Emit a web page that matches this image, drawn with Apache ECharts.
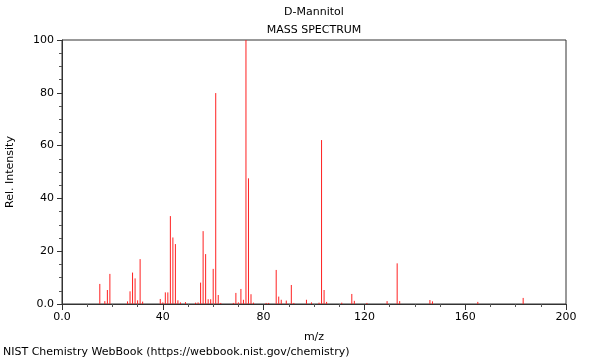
<!DOCTYPE html>
<html>
<head>
<meta charset="utf-8">
<script src="https://cdn.jsdelivr.net/npm/echarts@6/dist/echarts.min.js"></script>
<style>
  html, body { margin: 0; padding: 0; background: #fff; }
  #chart { width: 600px; height: 360px; }
</style>
</head>
<body>
<div id="chart"></div>
<script>
// m/z values and relative intensities
const mz = [15, 17, 18, 19, 26, 27, 28, 29, 30, 31, 32, 39, 40, 41, 42, 43, 44, 45, 46, 47, 49,
  53, 54, 55, 56, 57, 58, 59, 60, 61, 62, 63, 68, 69, 70, 71, 72, 73, 74, 75, 76,
  81, 82, 85, 86, 87, 89, 91, 92, 97, 99, 102, 103, 104, 105, 111, 115, 116, 121,
  129, 133, 134, 146, 147, 165, 183];
const intensity = [7.6, 1.1, 5.3, 11.4, 1.0, 4.8, 11.9, 9.7, 1.4, 17.0, 0.9, 1.9, 0.6, 4.4, 4.4, 33.3, 25.2, 22.7, 1.4, 0.6, 0.7,
  0.5, 0.6, 8.1, 27.6, 18.9, 1.8, 1.8, 13.3, 79.9, 3.4, 0.4, 0.4, 4.2, 0.6, 5.7, 1.6, 100, 47.6, 3.7, 0.5,
  0.4, 0.4, 12.9, 2.8, 1.6, 1.3, 7.2, 0.4, 1.6, 0.6, 0.5, 62.1, 5.3, 0.8, 0.5, 3.8, 1.2, 0.4,
  1.1, 15.4, 1.1, 1.5, 1.0, 0.8, 2.3];

const xTicks = [0, 40, 80, 120, 160, 200];
const yTicks = [0, 20, 40, 60, 80, 100];

const myChart = echarts.init(document.getElementById("chart"), null, { renderer: "canvas" });
const font = "DejaVu Sans";
const txt = { fontSize: 11, fontWeight: "normal", color: "#000", fontFamily: font };
const tickLabel = (v) => (v === 0 ? "0.0" : String(v));

myChart.setOption({
  animation: false,
  textStyle: { fontFamily: font },
  title: [
    { text: "D-Mannitol", left: 314, top: 7, padding: 0, textAlign: "center", textStyle: txt },
    { text: "MASS SPECTRUM", left: 314, top: 25, padding: 0, textAlign: "center", textStyle: txt },
    { text: "NIST Chemistry WebBook (https://webbook.nist.gov/chemistry)", left: 3, top: 347, padding: 0, textStyle: txt },
  ],
  grid: {
    left: 62, right: 34, top: 40, bottom: 56,
    outerBoundsMode: "none",
    show: true, borderColor: "#333", borderWidth: 1,
  },
  xAxis: {
    type: "value",
    min: xTicks[0],
    max: xTicks[xTicks.length - 1],
    interval: 40,
    name: "m/z",
    nameLocation: "middle",
    nameGap: 28,
    nameTextStyle: txt,
    axisLine: { lineStyle: { color: "#333" } },
    axisTick: { length: 6, lineStyle: { color: "#333" } },
    minorTick: { show: true, splitNumber: 4, length: 3, lineStyle: { color: "#555" } },
    splitLine: { show: false },
    axisLabel: { fontSize: 11, color: "#000", margin: 8, formatter: tickLabel },
  },
  yAxis: {
    type: "value",
    min: yTicks[0],
    max: yTicks[yTicks.length - 1],
    interval: 20,
    name: "Rel. Intensity",
    nameLocation: "middle",
    nameGap: 46,
    nameTextStyle: txt,
    axisLine: { show: true, lineStyle: { color: "#333" } },
    axisTick: { show: true, length: 5, lineStyle: { color: "#333" } },
    minorTick: { show: true, splitNumber: 4, length: 3, lineStyle: { color: "#555" } },
    splitLine: { show: false },
    axisLabel: { fontSize: 11, color: "#000", margin: 8, formatter: tickLabel },
  },
  series: [
    {
      type: "custom",
      clip: true,
      data: mz.map((m, i) => [m, intensity[i]]),
      renderItem: function (params, api) {
        const base = api.coord([api.value(0), 0]);
        const top = api.coord([api.value(0), api.value(1)]);
        return {
          type: "line",
          shape: { x1: base[0], y1: base[1], x2: top[0], y2: top[1] },
          style: { stroke: "#ff2020", lineWidth: 1 },
        };
      },
    },
  ],
});
</script>
</body>
</html>
